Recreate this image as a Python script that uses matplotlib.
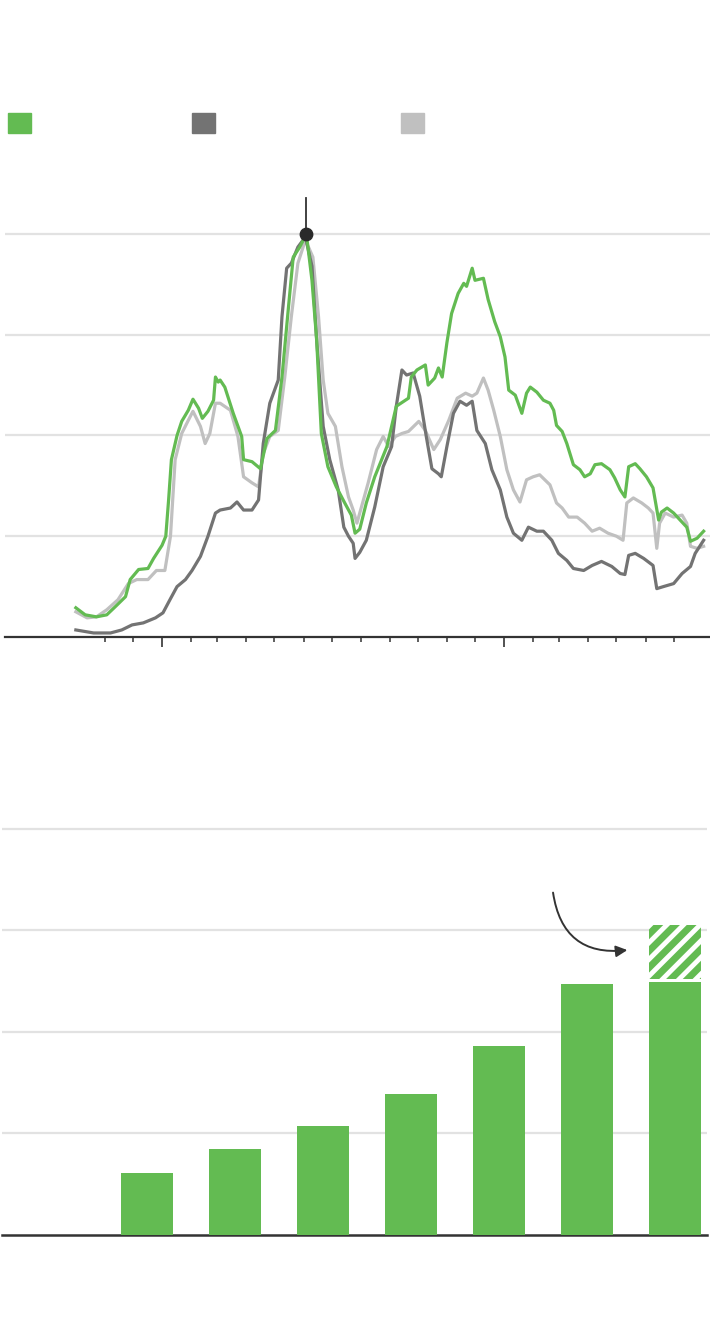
import numpy as np
import pandas as pd
import matplotlib
matplotlib.use("Agg")
import matplotlib.pyplot as plt
from matplotlib.patches import Rectangle, FancyArrowPatch

# --- top chart: three daily series, x = days since 2022-01-01 ---
green_days = [-92, -82, -70, -59, -50, -39, -34, -25, -15, -9, 0, 4, 7, 10, 16, 21, 28, 33, 39, 43,
              49, 55, 57, 60, 62, 67, 76, 85, 87, 96, 105, 112, 121, 128, 135, 140, 147, 154, 160, 165,
              170, 177, 186, 195, 202, 206, 211, 218, 227, 240, 250, 263, 266, 272, 281, 284, 291, 295,
              299, 304, 309, 316, 322, 325, 331, 334, 343, 348, 355, 361, 366, 370, 377, 384, 389, 393,
              400, 407, 414, 418, 421, 427, 432, 439, 446, 451, 457, 462, 469, 478, 483, 489, 494, 498,
              505, 510, 517, 524, 530, 533, 539, 546, 553, 560, 564, 571, 578]
green_vals = [0.29, 0.22, 0.20, 0.22, 0.30, 0.40, 0.57, 0.67, 0.68, 0.78, 0.91, 1.00, 1.36, 1.76, 2.00,
              2.14, 2.25, 2.36, 2.27, 2.17, 2.24, 2.35, 2.58, 2.53, 2.55, 2.48, 2.22, 1.99, 1.76, 1.74,
              1.67, 1.97, 2.05, 2.58, 3.28, 3.77, 3.87, 4.00, 3.54, 2.95, 2.02, 1.69, 1.49, 1.33, 1.21,
              1.03, 1.07, 1.33, 1.59, 1.89, 2.29, 2.37, 2.58, 2.65, 2.70, 2.50, 2.57, 2.67, 2.58, 2.92,
              3.21, 3.41, 3.51, 3.48, 3.66, 3.54, 3.56, 3.35, 3.13, 2.98, 2.78, 2.45, 2.40, 2.22, 2.42,
              2.48, 2.43, 2.35, 2.32, 2.25, 2.10, 2.04, 1.92, 1.71, 1.66, 1.59, 1.62, 1.71, 1.72, 1.66,
              1.58, 1.46, 1.39, 1.69, 1.72, 1.67, 1.59, 1.48, 1.16, 1.24, 1.28, 1.23, 1.16, 1.09, 0.95,
              0.98, 1.05]

dark_days = [-92, -73, -55, -43, -32, -20, -7, 1, 9, 16, 25, 32, 41, 49, 57, 62, 73, 80, 87, 96, 103,
             108, 115, 124, 128, 133, 138, 145, 153, 160, 165, 172, 179, 188, 194, 199, 204, 206, 211,
             218, 227, 236, 245, 250, 256, 261, 268, 275, 282, 288, 295, 298, 304, 311, 318, 325, 331,
             336, 345, 352, 361, 368, 375, 384, 391, 400, 407, 416, 423, 432, 439, 450, 459, 469, 480,
             489, 494, 498, 505, 514, 524, 528, 535, 546, 555, 564, 569, 578]
dark_vals = [0.07, 0.04, 0.04, 0.07, 0.12, 0.14, 0.19, 0.24, 0.38, 0.50, 0.57, 0.66, 0.80, 1.00, 1.23,
             1.26, 1.28, 1.34, 1.26, 1.26, 1.36, 1.92, 2.32, 2.55, 3.18, 3.66, 3.71, 3.87, 3.97, 3.68,
             2.95, 2.09, 1.76, 1.46, 1.09, 1.00, 0.93, 0.78, 0.84, 0.96, 1.29, 1.69, 1.89, 2.29, 2.65,
             2.60, 2.62, 2.39, 1.99, 1.67, 1.62, 1.59, 1.89, 2.22, 2.34, 2.30, 2.34, 2.05, 1.92, 1.66,
             1.46, 1.19, 1.03, 0.96, 1.09, 1.05, 1.05, 0.96, 0.83, 0.76, 0.68, 0.66, 0.71, 0.75, 0.70,
             0.63, 0.62, 0.81, 0.83, 0.78, 0.71, 0.48, 0.50, 0.53, 0.63, 0.70, 0.83, 0.96]

light_days = [-92, -80, -70, -59, -47, -36, -27, -15, -6, 3, 9, 14, 21, 28, 33, 41, 46, 51, 57, 62, 73,
              81, 87, 96, 103, 108, 115, 124, 131, 138, 145, 153, 161, 167, 172, 177, 185, 192, 199,
              204, 208, 211, 220, 229, 236, 242, 249, 256, 263, 274, 281, 290, 297, 306, 315, 324, 331,
              336, 343, 348, 354, 361, 368, 375, 382, 389, 396, 403, 414, 421, 427, 434, 443, 451, 459,
              467, 476, 485, 492, 496, 503, 512, 519, 524, 528, 531, 537, 546, 555, 560, 564, 571, 578]
light_vals = [0.25, 0.19, 0.20, 0.27, 0.37, 0.53, 0.57, 0.57, 0.66, 0.66, 1.00, 1.76, 2.02, 2.15, 2.24,
              2.09, 1.92, 2.02, 2.32, 2.32, 2.25, 1.99, 1.59, 1.53, 1.49, 1.82, 1.99, 2.05, 2.58, 3.18,
              3.71, 3.94, 3.77, 3.18, 2.55, 2.22, 2.09, 1.69, 1.39, 1.26, 1.13, 1.23, 1.53, 1.86, 1.99,
              1.89, 1.99, 2.02, 2.04, 2.14, 2.05, 1.86, 1.96, 2.15, 2.37, 2.42, 2.39, 2.42, 2.57, 2.45,
              2.25, 1.99, 1.66, 1.46, 1.34, 1.56, 1.59, 1.61, 1.51, 1.33, 1.28, 1.19, 1.19, 1.13, 1.05,
              1.08, 1.03, 1.00, 0.96, 1.33, 1.38, 1.33, 1.28, 1.23, 0.88, 1.13, 1.23, 1.19, 1.21, 1.13,
              0.90, 0.88, 0.90]

peak_day = 154
peak_val = 4.0

# --- bottom chart: yearly bars, last one has a projected (hatched) part ---
bar_vals = [0, 0.61, 0.85, 1.07, 1.39, 1.86, 2.47, 2.49]
projected_extra = [0, 0, 0, 0, 0, 0, 0, 0.53]

GREEN = "#63bb52"
DARK = "#737373"
LIGHT = "#c0c0c0"
GRID = "#e2e2e2"
INK = "#333333"

W, H = 710, 1326
plt.rcParams["hatch.linewidth"] = 5.0


def fx(px):
    return px / W


def fy(py):
    return 1 - py / H


def draw_lines(fig):
    ax = fig.add_axes([fx(5), fy(637), fx(705), (637 - 173.5) / H])
    ax.plot(light_days, light_vals, color=LIGHT, lw=2.3, zorder=3, solid_joinstyle="round")
    ax.plot(dark_days, dark_vals, color=DARK, lw=2.3, zorder=4, solid_joinstyle="round")
    ax.plot(green_days, green_vals, color=GREEN, lw=2.3, zorder=5, solid_joinstyle="round")

    ax.plot([peak_day, peak_day], [peak_val, 4.36], color=INK, lw=1.3, zorder=6)
    ax.scatter([peak_day], [peak_val], s=80, color="#2a2a2a", zorder=7)

    ax.set_xlim(-167.6, 584.8)
    ax.set_ylim(0, 4.6)
    ax.set_yticks([1, 2, 3, 4])
    ax.grid(axis="y", color=GRID, lw=1.6)
    ax.set_axisbelow(True)

    origin = pd.Timestamp("2022-01-01")
    months = pd.date_range("2021-11-01", "2023-07-01", freq="MS")
    days = [(m - origin).days for m in months]
    major = [d for d, m in zip(days, months) if m.month == 1]
    minor = [d for d, m in zip(days, months) if m.month != 1]
    ax.set_xticks(major)
    ax.set_xticks(minor, minor=True)
    ax.tick_params(axis="x", which="major", length=7, width=1.2, color=INK, labelbottom=False)
    ax.tick_params(axis="x", which="minor", length=3.5, width=1.1, color=INK)
    ax.tick_params(axis="y", length=0, labelleft=False)
    for s in ["top", "right", "left"]:
        ax.spines[s].set_visible(False)
    ax.spines["bottom"].set_color(INK)
    ax.spines["bottom"].set_linewidth(1.6)
    ax.patch.set_alpha(0)
    return ax


def draw_bars(fig):
    ax = fig.add_axes([fx(2), fy(1235), fx(705), 436.5 / H])
    pos = np.arange(len(bar_vals))
    ax.bar(pos, bar_vals, width=0.59, color=GREEN, zorder=3)
    ax.bar(pos, projected_extra, width=0.59, bottom=np.array(bar_vals) + 0.03,
           facecolor="white", edgecolor=GREEN, hatch="//", lw=0, zorder=3)

    arrow = FancyArrowPatch((5.61, 3.40), (6.49, 2.81), connectionstyle="arc3,rad=0.5",
                            arrowstyle="-|>", mutation_scale=17, color=INK, lw=1.4, zorder=4)
    ax.add_patch(arrow)

    ax.set_xlim(-0.648, 7.364)
    ax.set_ylim(0, 4.3)
    ax.set_yticks([1, 2, 3, 4])
    ax.grid(axis="y", color=GRID, lw=1.6)
    ax.set_axisbelow(True)
    ax.set_xticks([])
    ax.tick_params(axis="y", length=0, labelleft=False)
    for s in ["top", "right", "left"]:
        ax.spines[s].set_visible(False)
    ax.spines["bottom"].set_color(INK)
    ax.spines["bottom"].set_linewidth(1.8)
    ax.patch.set_alpha(0)
    return ax


def draw_legend(fig):
    for x0, c in [(8, GREEN), (192, DARK), (401, LIGHT)]:
        fig.patches.append(Rectangle((fx(x0), fy(133)), fx(23), 20 / H, color=c,
                                     transform=fig.transFigure, figure=fig))


if __name__ == "__main__":
    fig = plt.figure(figsize=(W / 100, H / 100), dpi=100)
    draw_legend(fig)
    draw_lines(fig)
    draw_bars(fig)
    fig.savefig("out.png", dpi=100, facecolor="white")
